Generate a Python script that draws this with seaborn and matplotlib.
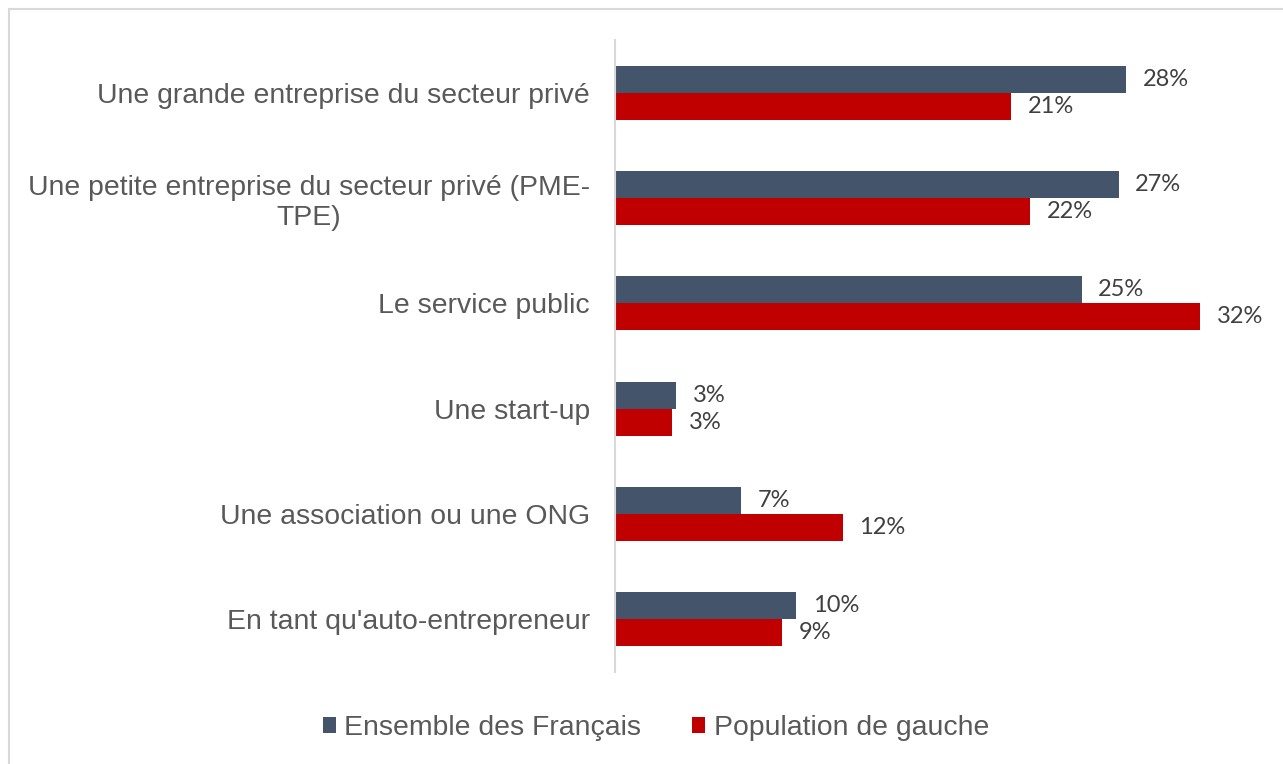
import pandas as pd
import seaborn as sns
import matplotlib.pyplot as plt
from matplotlib.lines import Line2D
from matplotlib.patches import Patch


#%% Data

Categories = [
    "Une grande entreprise du secteur privé",
    "Une petite entreprise du secteur privé (PME-\nTPE)",
    "Le service public",
    "Une start-up",
    "Une association ou une ONG",
    "En tant qu'auto-entrepreneur",
]

Series_Names = ["Ensemble des Français", "Population de gauche"]

# values (labels show rounded values)
Ensemble = [27.6, 27.2, 25.2, 3.3, 6.8, 9.8]
Gauche   = [21.4, 22.4, 31.6, 3.1, 12.3, 9.0]


df = pd.DataFrame({
    "category": Categories * 2,
    "value": Ensemble + Gauche,
    "series": [Series_Names[0]] * len(Categories) + [Series_Names[1]] * len(Categories),
})


#%% Style

Colors = ["#44546A", "#C00000"]

FontName        = "Liberation Sans"
ValueFont       = "Lato"
FontSize_Label  = 20.4
FontSize_Value  = 17
Color_Label     = "#595959"
Color_Value     = "#404040"
Color_Line      = "#D9D9D9"

Fig_W, Fig_H = 1283, 764


Fig = plt.figure(figsize=[Fig_W / 100, Fig_H / 100], dpi=100)

ax = plt.axes([615 / Fig_W, 92 / Fig_H, 648 / Fig_W, 632 / Fig_H])

sns.barplot(data=df, x="value", y="category", hue="series",
            hue_order=Series_Names, order=Categories,
            palette=Colors, orient="h", width=0.51,
            saturation=1, linewidth=0, legend=False, ax=ax)

ax.set_xlim(0, 35)
ax.set_ylim(5.5, -0.5)

# value labels
for cont, vals in zip(ax.containers, [Ensemble, Gauche]):
    ax.bar_label(cont, labels=["%d%%" % round(v) for v in vals],
                 padding=12, fontsize=FontSize_Value, fontfamily=ValueFont,
                 color=Color_Value)

# axes
ax.set_xlabel("")
ax.set_ylabel("")
ax.set_xticks([])
ax.tick_params(axis="y", length=0, pad=18, labelsize=FontSize_Label,
               labelcolor=Color_Label)
for lab in ax.get_yticklabels():
    lab.set_fontfamily(FontName)
    lab.set_multialignment("center")

ax.spines[["right", "top", "bottom"]].set_visible(False)
ax.spines["left"].set_color(Color_Line)
ax.spines["left"].set_linewidth(1.5)

# legend
handles = [Patch(facecolor=c, edgecolor="none") for c in Colors]
Fig.legend(handles, Series_Names, loc="center",
           bbox_to_anchor=(656 / Fig_W, 1 - 728 / Fig_H), ncol=2,
           frameon=False, handlelength=0.45, handleheight=0.45,
           handletextpad=0.3, columnspacing=1.8,
           prop={"family": FontName, "size": FontSize_Label},
           labelcolor=Color_Label)

# outer frame (left and top only visible)
Fig.add_artist(Line2D([9 / Fig_W, 9 / Fig_W], [0, 1 - 9 / Fig_H],
                      color=Color_Line, linewidth=1.5, transform=Fig.transFigure))
Fig.add_artist(Line2D([9 / Fig_W, 1], [1 - 9 / Fig_H, 1 - 9 / Fig_H],
                      color=Color_Line, linewidth=1.5, transform=Fig.transFigure))

plt.savefig("out.png", dpi=100)
